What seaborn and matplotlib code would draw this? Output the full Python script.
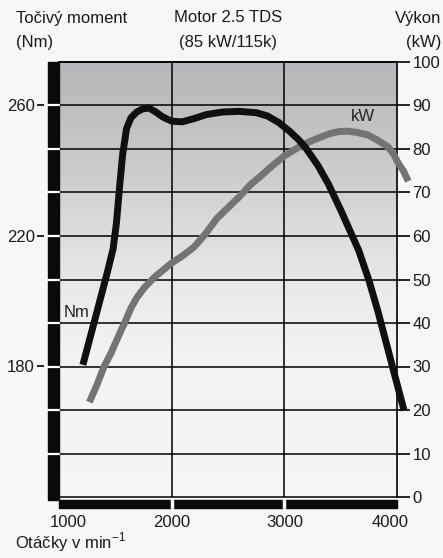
import numpy as np
import pandas as pd
import matplotlib
matplotlib.use("Agg")
import matplotlib.pyplot as plt
import matplotlib.transforms as mtransforms
from matplotlib.patches import Rectangle
import seaborn as sns

# ---------------- data ----------------
rpm_ticks = [1000, 2000, 3000, 4000]
nm_ticks = [180, 220, 260]
kw_ticks = list(range(0, 101, 10))

torque_rpm = [1212, 1350, 1430, 1480, 1510, 1540, 1565, 1600, 1640, 1690, 1745,
              1800, 1860, 1920, 2000, 2094, 2200, 2306, 2450, 2600, 2750, 2850,
              2950, 3050, 3127, 3190, 3300, 3390, 3500, 3660, 3750, 3830, 3910,
              3990, 4063]
torque_nm = [180.5, 198.5, 209, 216, 224, 236, 245, 253, 256.3, 258, 259,
             259.2, 258, 256.5, 255.2, 255, 256, 257.2, 258, 258.2, 257.8, 256.8,
             254.8, 252, 249.5, 247, 241.5, 236, 228, 215.6, 206.5, 197, 186.5,
             176, 166.5]

power_rpm = [1270, 1340, 1400, 1460, 1520, 1590, 1640, 1690, 1760, 1850, 1930,
             2000, 2100, 2200, 2300, 2400, 2500, 2600, 2700, 2800, 2900, 3000,
             3100, 3200, 3300, 3400, 3480, 3560, 3650, 3745, 3830, 3920, 3970,
             4010, 4060, 4100]
power_kw = [21.8, 26, 30, 33, 36.5, 40.5, 43.5, 45.8, 48.2, 50.6, 52.3,
            53.8, 55.5, 57.5, 60.5, 64, 66.5, 69, 71.8, 74, 76.3, 78.4,
            80, 81.4, 82.5, 83.5, 84, 84.1, 83.8, 83.2, 82, 80.5, 78.8,
            76.8, 74.8, 72.6]

# ---------------- style ----------------
sns.set_style("white")
plt.rcParams["font.family"] = ["Liberation Sans", "DejaVu Sans"]
FS = 12
BG = "#f7f7f5"

W, H = 443, 558
fig = plt.figure(figsize=(W / 100, H / 100), dpi=100, facecolor=BG)
L, R, T, B = 59, 397, 62, 497
ax = fig.add_axes([L / W, 1 - B / H, (R - L) / W, (B - T) / H])
ax2 = ax.twinx()
ax.set_zorder(2)
ax.patch.set_visible(False)

ax.set_xlim(1000, 4000)
ax.set_ylim(140, 273.333)
ax2.set_ylim(0, 100)

# background gradient (on lower axes)
kv = np.linspace(0, 100, 300)
gv = np.interp(kv, [0, 30, 45, 60, 75, 90, 100],
               [0.962, 0.955, 0.925, 0.87, 0.80, 0.745, 0.72])
tint = np.interp(kv, [0, 40, 100], [0.0, 0.004, 0.014])
img = np.zeros((300, 1, 3))
img[:, 0, 0] = gv
img[:, 0, 1] = gv
img[:, 0, 2] = np.clip(gv + tint, 0, 1)
ax2.imshow(img, extent=(1000, 4000, 0, 100), origin="lower", aspect="auto",
           zorder=0, interpolation="bilinear")
ax2.set_xlim(1000, 4000)
ax2.set_ylim(0, 100)

# grid
for v in kw_ticks:
    ax2.axhline(v, color="black", lw=1.1, zorder=0.5)
for x in rpm_ticks[1:-1]:
    ax2.axvline(x, color="black", lw=1.1, zorder=0.5)

# curves
df_p = pd.DataFrame({"rpm": power_rpm, "kW": power_kw})
df_t = pd.DataFrame({"rpm": torque_rpm, "Nm": torque_nm})
sns.lineplot(data=df_p, x="rpm", y="kW", ax=ax2, color="#747474", lw=5.0,
             sort=False, zorder=3)
sns.lineplot(data=df_t, x="rpm", y="Nm", ax=ax, color="#101010", lw=5.0,
             sort=False, zorder=3)
for ln in ax.lines + ax2.lines:
    ln.set_clip_on(False)
    ln.set_solid_capstyle("butt")
    ln.set_solid_joinstyle("round")

# labels on curves
ax2.text(3700, 87.4, "kW", fontsize=FS, ha="center", va="center", color="#222222")
ax.text(1160, 196.6, "Nm", fontsize=FS, ha="center", va="center", color="#222222")

# ---------------- axes decoration ----------------
for s in ["left", "bottom"]:
    ax.spines[s].set_visible(False)
    ax2.spines[s].set_visible(False)
ax.spines["top"].set_visible(False)
ax.spines["right"].set_visible(False)
ax2.spines["top"].set_visible(True)
ax2.spines["top"].set_color("black")
ax2.spines["top"].set_linewidth(1.2)
ax2.spines["right"].set_visible(True)
ax2.spines["right"].set_color("black")
ax2.spines["right"].set_linewidth(1.2)

ax.set_yticks(nm_ticks)
ax.spines["left"].set_position(("outward", 11))
ax.tick_params(axis="y", left=True, length=5, width=1.2, color="black",
               pad=1.5, labelsize=FS, labelcolor="#1a1a1a")
ax2.set_yticks(kw_ticks)
ax2.tick_params(axis="y", right=True, length=9.5, width=1.2, color="black",
                pad=1.5, labelsize=FS, labelcolor="#1a1a1a")
ax.set_xticks(rpm_ticks)
ax.tick_params(axis="x", bottom=True, length=0, pad=13, labelsize=FS,
               labelcolor="#1a1a1a")
labs = ax.xaxis.get_majorticklabels()
labs[0].set_transform(labs[0].get_transform() +
                      mtransforms.ScaledTranslation(9 / 100, 0, fig.dpi_scale_trans))
labs[-1].set_transform(labs[-1].get_transform() +
                       mtransforms.ScaledTranslation(-7 / 100, 0, fig.dpi_scale_trans))
ax.set_xlabel("")
ax.set_ylabel("")
ax2.set_ylabel("")

# black bars (left and bottom)
pw, ph = R - L, B - T
ax.add_patch(Rectangle((-11 / pw, -3 / ph), 11 / pw, 1 + 3 / ph,
                       transform=ax.transAxes, color="#0a0a0a", clip_on=False, zorder=1))
ax.add_patch(Rectangle((0, -11 / ph), 1, 8 / ph,
                       transform=ax.transAxes, color="#0a0a0a", clip_on=False, zorder=1))
bl_y = mtransforms.blended_transform_factory(ax.transAxes, ax2.transData)
for v in kw_ticks[1:-1]:
    ax.plot([-11 / pw, 0], [v, v], transform=bl_y, color="white", lw=1.6,
            clip_on=False, zorder=1.5)
bl_x = mtransforms.blended_transform_factory(ax.transData, ax.transAxes)
for x in rpm_ticks[1:-1]:
    ax.plot([x, x], [-11 / ph, -3 / ph], transform=bl_x, color=BG, lw=2.5,
            clip_on=False, zorder=1.5)

# ---------------- header / footer texts ----------------
def ft(xp, yp, s, ha):
    fig.text(xp / W, 1 - yp / H, s, fontsize=FS, ha=ha, va="center", color="#1a1a1a")

ft(16, 18, "Točivý moment", "left")
ft(16, 43, "(Nm)", "left")
ft(228, 18, "Motor 2.5 TDS", "center")
ft(228, 43, "(85 kW/115k)", "center")
ft(441, 18, "Výkon", "right")
ft(441, 43, "(kW)", "right")
ft(15, 542, r"Otáčky v min$^{\mathregular{-1}}$", "left")

fig.savefig("out.png", dpi=100, facecolor=BG)
